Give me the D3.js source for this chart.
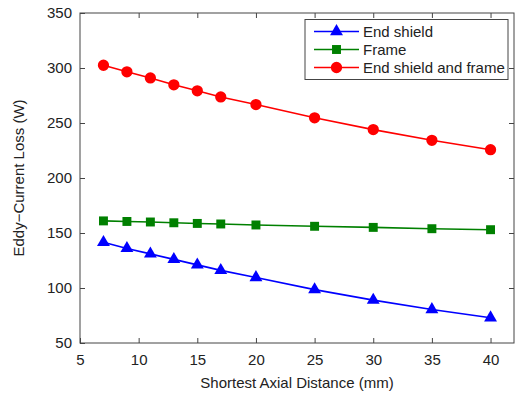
<!DOCTYPE html>
<html>
<head>
<meta charset="utf-8">
<script src="https://cdn.jsdelivr.net/npm/d3@7"></script>
<style>
  body { margin: 0; background: #fff; }
  text { font-family: "Liberation Sans", Arial, sans-serif; fill: #222; }
</style>
</head>
<body>
<div id="chart"></div>
<script>
"use strict";

// data
const distance = [7, 9, 11, 13, 15, 17, 20, 25, 30, 35, 40];
const endShield = [141.5, 136, 131, 126, 121, 116, 109.5, 98.5, 89, 80.5, 73];
const frame = [161, 160.5, 160, 159.3, 158.7, 158.2, 157.3, 156.1, 155.1, 153.9, 153];
const both = [302.5, 296.5, 291, 284.7, 279.3, 273.7, 266.8, 254.7, 244, 234.3, 225.7];
const xTicks = [5, 10, 15, 20, 25, 30, 35, 40];
const yTicks = [50, 100, 150, 200, 250, 300, 350];

const series = [
    {name: "End shield", values: endShield, color: "#0000ff", marker: "triangle"},
    {name: "Frame", values: frame, color: "#008000", marker: "square"},
    {name: "End shield and frame", values: both, color: "#ff0000", marker: "circle"}
];

// setting
const W = 529, H = 396;
const plot = {left: 80, right: 514, top: 13, bottom: 343};
const tickLen = 5;
const fontSize = 15;

let svg = d3.select("#chart").append("svg")
    .attr("width", W).attr("height", H);

// scales
let scaleX = d3.scaleLinear().domain([5, 42]).range([plot.left, plot.right]);
let scaleY = d3.scaleLinear().domain([50, 350]).range([plot.bottom, plot.top]);

// axes (box with inward ticks on all sides)
const axisColor = "#444";
function styleAxis(g) {
    g.select(".domain").remove();
    g.selectAll(".tick line").attr("stroke", axisColor);
    g.selectAll(".tick text").attr("font-size", fontSize).attr("fill", "#222")
        .style("font-family", "'Liberation Sans', Arial, sans-serif");
}

svg.append("g")
    .attr("transform", `translate(0, ${plot.bottom})`)
    .call(d3.axisBottom(scaleX).tickValues(xTicks).tickSizeInner(-tickLen).tickSizeOuter(0).tickPadding(11))
    .call(styleAxis);

svg.append("g")
    .attr("transform", `translate(0, ${plot.top})`)
    .call(d3.axisTop(scaleX).tickValues(xTicks.filter(d => d != 5)).tickSizeInner(-tickLen).tickSizeOuter(0).tickFormat(""))
    .call(styleAxis);

svg.append("g")
    .attr("transform", `translate(${plot.left}, 0)`)
    .call(d3.axisLeft(scaleY).tickValues(yTicks).tickSizeInner(-tickLen).tickSizeOuter(0).tickPadding(8))
    .call(styleAxis);

svg.append("g")
    .attr("transform", `translate(${plot.right}, 0)`)
    .call(d3.axisRight(scaleY).tickValues(yTicks.filter(d => d != 50 && d != 350)).tickSizeInner(-tickLen).tickSizeOuter(0).tickFormat(""))
    .call(styleAxis);

svg.append("rect")
    .attr("x", plot.left).attr("y", plot.top)
    .attr("width", plot.right - plot.left).attr("height", plot.bottom - plot.top)
    .attr("fill", "none").attr("stroke", axisColor).attr("stroke-width", 1);

// labels
svg.append("text")
    .attr("x", 297).attr("y", 388)
    .attr("text-anchor", "middle").attr("font-size", fontSize)
    .text("Shortest Axial Distance (mm)");

svg.append("text")
    .attr("transform", `translate(24, ${(plot.top + plot.bottom) / 2}) rotate(-90)`)
    .attr("text-anchor", "middle").attr("font-size", fontSize)
    .text("Eddy\u2212Current Loss (W)");

// markers
const symbolFor = {
    triangle: d3.symbol().type(d3.symbolTriangle).size(72),
    square: d3.symbol().type(d3.symbolSquare).size(80),
    circle: d3.symbol().type(d3.symbolCircle).size(100)
};

let line = d3.line()
    .x((d, i) => scaleX(distance[i]))
    .y(d => scaleY(d));

series.forEach(s => {
    let g = svg.append("g").attr("class", "series");
    g.append("path")
        .attr("d", line(s.values))
        .attr("fill", "none").attr("stroke", s.color).attr("stroke-width", 1.6);
    g.selectAll("path.mark")
        .data(s.values)
        .enter()
        .append("path")
        .attr("class", "mark")
        .attr("d", symbolFor[s.marker])
        .attr("transform", (d, i) => `translate(${scaleX(distance[i])}, ${scaleY(d)})`)
        .attr("fill", s.color);
});

// legend
let legend = svg.append("g").attr("class", "legend");
legend.append("rect")
    .attr("x", 305).attr("y", 19.5).attr("width", 203).attr("height", 60)
    .attr("fill", "#fff").attr("stroke", axisColor).attr("stroke-width", 1);

series.forEach((s, i) => {
    let y = 31.5 + i * 18;
    legend.append("line")
        .attr("x1", 314).attr("x2", 359).attr("y1", y).attr("y2", y)
        .attr("stroke", s.color).attr("stroke-width", 1.6);
    legend.append("path")
        .attr("d", symbolFor[s.marker])
        .attr("transform", `translate(336.5, ${y})`)
        .attr("fill", s.color);
    legend.append("text")
        .attr("x", 363).attr("y", y + 5.5)
        .attr("font-size", fontSize)
        .text(s.name);
});
</script>
</body>
</html>
